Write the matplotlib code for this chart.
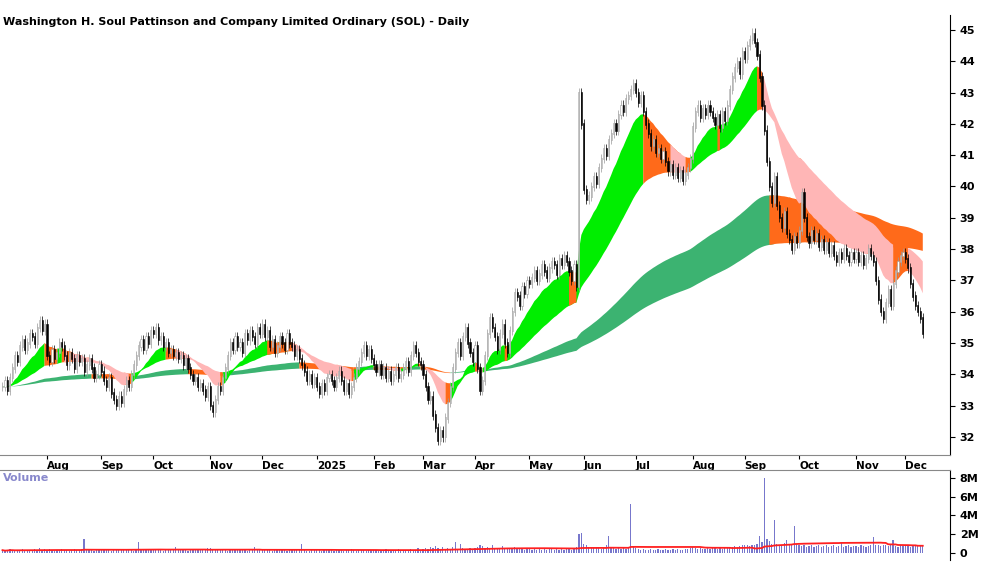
import matplotlib
matplotlib.use('Agg')
import matplotlib.pyplot as plt
import numpy as np
import pandas as pd

TITLE = 'Washington H. Soul Pattinson and Company Limited Ordinary (SOL) - Daily'
START = '2024-07-08'

# daily closes, one row per month (Jul 2024 .. Dec 2025)
closes = [
    33.6, 33.8, 33.5, 33.9, 34.2, 34.6, 34.4, 34.9, 35.1, 34.8, 35.0, 35.3, 35.2, 35.0, 35.5, 35.7, 35.4, 35.6,
    34.6, 34.4, 34.8, 34.5, 34.7, 35.0, 34.9, 34.6, 34.3, 34.7, 34.5, 34.2, 34.6, 34.4, 34.5, 34.1, 34.3, 34.5, 34.2, 33.9, 34.0, 34.3,
    34.1, 33.8, 33.6, 33.9, 33.4, 33.2, 33.0, 33.3, 33.1, 33.5, 33.8, 33.6, 34.0, 34.3, 34.6, 34.9, 35.1, 34.8, 35.2, 35.0, 35.4,
    35.3, 35.5, 35.1, 35.2, 34.9, 35.0, 34.7, 34.8, 34.6, 34.7, 34.5, 34.6, 34.3, 34.5, 34.2, 34.0, 33.8, 33.9, 33.6, 33.7, 33.5, 33.3, 33.6,
    33.0, 32.8, 33.2, 33.6, 33.5, 33.9, 34.2, 34.6, 35.0, 34.8, 35.2, 34.9, 35.0, 34.7, 35.3, 35.1, 35.4, 35.2, 35.0, 35.5, 35.3,
    35.6, 35.2, 35.4, 34.9, 35.1, 34.7, 34.9, 35.2, 35.0, 34.8, 35.3, 35.0, 34.9, 34.6, 34.8, 34.5, 34.3, 34.1, 33.8, 34.0, 33.7, 33.9,
    33.6, 33.4, 33.7, 33.5, 33.9, 34.0, 33.8, 33.6, 33.9, 34.1, 33.8, 33.5, 33.7, 33.4, 33.6, 33.9, 34.2, 34.4, 34.7, 34.9, 34.6, 34.8, 34.5,
    34.3, 34.1, 34.3, 34.0, 34.2, 33.9, 34.1, 33.8, 34.0, 34.2, 33.9, 34.0, 34.2, 34.4, 34.1, 34.6, 34.9, 34.7, 34.4, 34.3,
    34.0, 33.6, 33.2, 33.3, 32.7, 32.3, 31.9, 32.2, 32.0, 32.6, 33.1, 33.6, 34.2, 34.7, 35.0, 34.6, 35.2, 35.5, 35.0, 34.7, 34.4,
    34.9, 34.2, 33.5, 33.8, 34.6, 35.3, 35.8, 35.5, 35.2, 34.8, 35.3, 35.6, 35.0, 34.7, 35.4, 36.0, 36.6, 36.5, 36.2, 36.8, 36.6, 37.0,
    36.9, 37.1, 37.3, 37.0, 37.2, 37.5, 37.3, 37.1, 37.4, 37.6, 37.5, 37.2, 37.7, 37.5, 37.8, 37.6, 37.3, 37.0, 37.5, 36.8, 43.0, 42.0,
    39.9, 39.6, 39.7, 40.0, 40.3, 40.1, 40.6, 40.9, 41.2, 41.0, 41.5, 41.7, 42.0, 41.8, 42.3, 42.6, 42.4, 42.8, 42.9, 43.1, 43.3,
    43.0, 42.7, 42.9, 42.4, 42.0, 41.7, 41.3, 41.5, 41.1, 41.2, 40.9, 41.1, 40.8, 40.5, 40.7, 40.4, 40.6, 40.3, 40.5, 40.2, 40.4, 40.6, 40.9,
    41.9, 42.4, 42.6, 42.2, 42.5, 42.3, 42.6, 42.4, 42.2, 42.0, 42.3, 41.9, 42.4, 42.1, 42.6, 43.1, 43.5, 43.8, 44.0, 43.6, 44.3,
    44.1, 44.5, 44.7, 44.9, 44.6, 44.2, 43.5, 42.6, 41.8, 40.8, 40.0, 39.5, 40.3, 39.4, 39.0, 38.7, 39.2, 38.5, 38.3, 38.0, 38.4, 38.2,
    38.6, 39.8, 39.0, 38.4, 38.2, 38.6, 38.3, 38.5, 38.1, 38.3, 38.0, 38.2, 37.9, 38.1, 37.8, 37.6, 37.9, 37.7, 38.0, 37.8, 37.6, 37.9, 37.7,
    37.9, 37.6, 37.8, 37.5, 37.7, 38.0, 37.8, 37.6, 37.0, 36.4, 36.0, 35.8, 36.3, 36.7, 36.2, 36.9, 37.3, 37.6, 37.8, 37.9,
    37.7, 37.4, 36.9, 36.5, 36.2, 36.0, 35.8, 35.3,
]

# daily volume in millions
volumes = [
    0.3, 0.2, 0.3, 0.4, 0.3, 0.2, 0.3, 0.3, 0.4, 0.3, 0.2, 0.3, 0.3, 0.4, 0.3, 0.5, 0.3, 0.4,
    0.3, 0.4, 0.3, 0.2, 0.3, 0.3, 0.4, 0.3, 0.3, 0.2, 0.3, 0.4, 0.3, 0.3, 0.4, 1.5, 0.4, 0.3, 0.3, 0.2, 0.3, 0.4,
    0.3, 0.3, 0.4, 0.3, 0.2, 0.3, 0.3, 0.4, 0.3, 0.3, 0.4, 0.3, 0.3, 0.2, 0.4, 1.2, 0.4, 0.3, 0.3, 0.3, 0.4,
    0.3, 0.4, 0.3, 0.3, 0.2, 0.3, 0.4, 0.3, 0.3, 0.6, 0.3, 0.3, 0.4, 0.3, 0.2, 0.3, 0.3, 0.4, 0.3, 0.3, 0.4, 0.3, 0.5,
    0.5, 0.4, 0.3, 0.3, 0.4, 0.3, 0.3, 0.2, 0.3, 0.4, 0.3, 0.3, 0.3, 0.4, 0.3, 0.2, 0.3, 0.3, 0.6, 0.3, 0.4,
    0.3, 0.4, 0.3, 0.3, 0.2, 0.3, 0.3, 0.4, 0.3, 0.3, 0.2, 0.3, 0.4, 0.3, 0.3, 0.4, 1.0, 0.3, 0.2, 0.2, 0.3, 0.3,
    0.3, 0.3, 0.2, 0.3, 0.3, 0.4, 0.3, 0.2, 0.3, 0.3, 0.3, 0.2, 0.3, 0.3, 0.4, 0.3, 0.2, 0.3, 0.3, 0.3, 0.2, 0.3, 0.3,
    0.3, 0.3, 0.2, 0.3, 0.3, 0.4, 0.3, 0.3, 0.2, 0.3, 0.4, 0.3, 0.3, 0.3, 0.2, 0.4, 0.3, 0.3, 0.5, 0.3,
    0.4, 0.5, 0.4, 0.6, 0.5, 0.7, 0.5, 0.4, 0.6, 0.4, 0.5, 0.4, 0.6, 1.2, 0.4, 1.0, 0.5, 0.4, 0.4, 0.5, 0.4,
    0.5, 0.6, 0.8, 0.7, 0.5, 0.6, 0.5, 0.8, 0.5, 0.4, 0.5, 0.7, 0.4, 0.5, 0.4, 0.5, 0.6, 0.4, 0.5, 0.4, 0.3, 0.4,
    0.4, 0.3, 0.4, 0.3, 0.4, 0.3, 0.4, 0.3, 0.5, 0.4, 0.3, 0.4, 0.3, 0.4, 0.3, 0.4, 0.5, 0.3, 0.4, 0.6, 2.0, 2.1,
    1.0, 0.8, 0.6, 0.5, 0.5, 0.6, 0.5, 0.4, 0.5, 0.8, 1.8, 0.6, 0.5, 0.4, 0.5, 0.4, 0.5, 0.4, 0.5, 5.2, 0.7,
    0.5, 0.4, 0.3, 0.4, 0.3, 0.3, 0.4, 0.3, 0.3, 0.4, 0.3, 0.3, 0.4, 0.3, 0.3, 0.4, 0.3, 0.4, 0.3, 0.3, 0.4, 0.4, 0.5,
    0.6, 0.5, 0.4, 0.5, 0.4, 0.4, 0.5, 0.4, 0.5, 0.6, 0.4, 0.5, 0.4, 0.5, 0.6, 0.5, 0.6, 0.7, 0.6, 0.7, 0.8,
    0.8, 0.9, 0.7, 0.8, 0.9, 1.0, 1.8, 1.2, 8.0, 1.5, 1.3, 1.0, 3.5, 1.0, 0.9, 0.8, 1.1, 1.4, 1.0, 0.9, 2.9, 1.0,
    0.8, 0.7, 0.9, 0.6, 0.7, 0.8, 0.6, 0.7, 0.8, 0.6, 0.7, 0.9, 0.6, 0.7, 0.8, 0.6, 0.7, 1.1, 0.6, 0.7, 0.8, 0.6, 0.7,
    0.7, 0.6, 0.8, 0.7, 0.6, 0.7, 0.8, 1.7, 0.9, 0.8, 0.7, 0.8, 0.9, 0.7, 0.8, 1.4, 0.7, 0.6, 0.8, 0.7,
    0.7, 0.8, 0.6, 0.7, 0.9, 0.7, 0.8, 0.9,
]

short_periods = [8, 10, 13, 16, 20, 25]
long_periods = [75, 85, 95, 105, 115, 127]
price_ticks = list(range(32, 46))
vol_ticks = [0, 2, 4, 6, 8]
vol_tick_labels = ['0', '2M', '4M', '6M', '8M']

n = min(len(closes), len(volumes))
c = pd.Series(closes[:n])
vol = np.array(volumes[:n])
dates = pd.bdate_range(START, periods=n)
x = np.arange(n)

o = c.shift(1).fillna(c.iloc[0]).values
cv = c.values
hi = np.maximum(o, cv) + 0.15
lo = np.minimum(o, cv) - 0.15

# smoothing factor 1/period
short = pd.concat([c.ewm(alpha=1 / p, adjust=False).mean() for p in short_periods], axis=1).values
long_ = pd.concat([c.ewm(alpha=1 / p, adjust=False).mean() for p in long_periods], axis=1).values


def band(ax, emas, colors, z):
    # colour by slope: all rising / mixed / all falling
    top = emas.max(axis=1)
    bot = emas.min(axis=1)
    slope = np.vstack([np.zeros(emas.shape[1]), np.diff(emas, axis=0)])
    up = (slope >= 0).all(axis=1)
    dn = (slope < 0).all(axis=1)
    state = np.where(up, 0, np.where(dn, 2, 1))
    for k in range(3):
        m = state == k
        m2 = m | np.r_[m[1:], False]
        ax.fill_between(x, bot, top, where=m2, color=colors[k], lw=0, zorder=z)


fig = plt.figure(figsize=(10, 5.62), dpi=100)
ax = fig.add_axes([0.0, 1 - 455 / 562, 0.95, 440 / 562])
axv = fig.add_axes([0.0, 1 - 560 / 562, 0.95, 90 / 562])

band(ax, long_, ['#3cb371', '#ff6a1a', '#ff6a1a'], 1)
band(ax, short, ['#00ee00', '#ff6a1a', '#ffb6b6'], 2)

up_bar = cv >= o
col = np.where(up_bar, '#9a9a9a', '#000000')
ax.vlines(x, lo, hi, colors=col, lw=0.5, zorder=3)
ax.bar(x, np.abs(cv - o) + 0.04, bottom=np.minimum(o, cv) - 0.02, width=0.45,
       color=np.where(up_bar, 'white', 'black'), edgecolor=col, lw=0.4, zorder=4)

ax.set_xlim(-1, n + 10)
ax.set_ylim(31.42, 45.48)
ax.yaxis.tick_right()
ax.set_yticks(price_ticks)
ax.set_yticklabels([str(t) for t in price_ticks], fontsize=8, fontweight='bold')
ax.text(0.003, 0.995, TITLE, transform=ax.transAxes, ha='left', va='top', fontsize=8, fontweight='bold')

month_start = [i for i in range(1, n) if dates[i].month != dates[i - 1].month]
labels = ['2025' if dates[i].month == 1 else dates[i].strftime('%b') for i in month_start]
ax.set_xticks(month_start)
ax.set_xticklabels(labels, fontsize=7.5, fontweight='bold', ha='left')
ax.tick_params(axis='x', length=3, pad=1)
for s in ['top', 'left']:
    ax.spines[s].set_visible(False)
ax.spines['bottom'].set_color('#888888')

axv.bar(x, vol, width=0.5, color='#7777cc', zorder=2)
axv.plot(x, pd.Series(vol).rolling(50, min_periods=1).mean(), color='#ff2020', lw=1.3, zorder=3)
axv.set_xlim(-1, n + 10)
axv.set_ylim(-0.75, 8.85)
axv.yaxis.tick_right()
axv.set_yticks(vol_ticks)
axv.set_yticklabels(vol_tick_labels, fontsize=8, fontweight='bold')
axv.set_xticks([])
for s in ['top', 'left', 'bottom']:
    axv.spines[s].set_visible(False)
axv.text(0.003, 0.97, 'Volume', transform=axv.transAxes, ha='left', va='top', fontsize=8,
         fontweight='bold', color='#8888cc')
fig.add_artist(plt.Line2D([0, 0.95], [1 - 470 / 562] * 2, color='#888888', lw=0.8))

fig.savefig('out.png', dpi=100)
